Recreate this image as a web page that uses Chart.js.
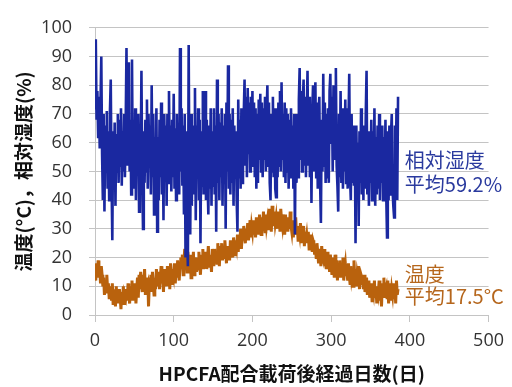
<!DOCTYPE html>
<html lang="ja">
<head>
<meta charset="utf-8">
<title>温度・相対湿度の経時変化</title>
<script src="https://cdn.jsdelivr.net/npm/chart.js@4.4.1/dist/chart.umd.min.js"></script>
<style>
  html, body { margin: 0; padding: 0; background: #fff; }
  #wrap { width: 512px; height: 387px; }
</style>
</head>
<body>
<div id="wrap"><canvas id="c" width="512" height="387"></canvas></div>
<script>
// Daily relative humidity (%) from day 0 to day 385
const humidity = [
  72, 96, 68, 78, 62, 76, 58, 74, 90, 56,
  40, 70, 36, 66, 50, 71, 44, 64, 40, 71,
  82, 48, 26, 64, 44, 67, 38, 63, 50, 70,
  46, 68, 52, 72, 45, 64, 50, 70, 48, 66,
  93, 52, 70, 88, 50, 68, 42, 89, 48, 66,
  44, 72, 40, 68, 50, 70, 36, 64, 52, 85,
  48, 30, 64, 46, 68, 50, 75, 44, 70, 52,
  66, 42, 80, 48, 70, 35, 62, 46, 72, 29,
  62, 40, 68, 48, 74, 42, 64, 33, 70, 50,
  66, 38, 70, 46, 78, 50, 66, 43, 68, 48,
  77, 44, 65, 40, 70, 48, 66, 42, 93, 50,
  72, 45, 66, 35, 70, 20, 64, 30, 17, 94,
  44, 28, 70, 38, 66, 42, 62, 79, 33, 66,
  48, 72, 40, 68, 25, 64, 45, 78, 42, 66,
  78, 40, 68, 46, 35, 66, 44, 72, 38, 64,
  45, 72, 42, 66, 29, 82, 46, 70, 40, 67,
  48, 72, 38, 66, 46, 70, 30, 74, 50, 87,
  44, 70, 42, 68, 46, 72, 38, 66, 48, 64,
  40, 29, 75, 48, 68, 44, 72, 46, 66, 70,
  82, 52, 76, 48, 79, 56, 74, 50, 76, 58,
  78, 52, 74, 48, 72, 44, 70, 46, 75, 54,
  77, 50, 74, 48, 72, 54, 76, 50, 70, 80,
  52, 74, 46, 40, 70, 50, 76, 48, 72, 44,
  41, 72, 48, 74, 52, 78, 50, 81, 54, 70,
  48, 74, 46, 72, 50, 70, 44, 68, 48, 72,
  50, 66, 44, 70, 28, 66, 46, 70, 48, 75,
  86, 54, 78, 50, 74, 82, 52, 76, 48, 70,
  85, 52, 76, 48, 72, 39, 70, 80, 50, 72,
  81, 48, 74, 44, 70, 76, 46, 32, 68, 50,
  84, 52, 74, 46, 70, 48, 72, 46, 78, 84,
  60, 76, 50, 80, 54, 74, 86, 52, 45, 36,
  70, 48, 78, 46, 72, 44, 68, 50, 75, 46,
  72, 44, 66, 84, 48, 40, 70, 46, 66, 45,
  62, 25, 66, 44, 60, 31, 64, 46, 72, 42,
  65, 40, 66, 44, 70, 85, 42, 64, 38, 62,
  46, 68, 40, 64, 44, 72, 38, 62, 42, 66,
  44, 70, 40, 64, 46, 66, 40, 62, 44, 68,
  42, 27, 64, 40, 66, 42, 62, 70, 44, 38,
  34, 66, 44, 72, 40, 76
];

// Daily temperature (°C) from day 0 to day 385
const temperature = [
  15, 12, 18, 14, 19, 13, 16, 11, 17, 14,
  10, 13, 7, 12, 8, 14, 9, 11, 6, 10,
  8, 5, 11, 4, 9, 6, 3, 10, 5, 8,
  4, 9, 6, 2, 8, 5, 10, 4, 7, 6,
  9, 5, 11, 7, 4, 10, 6, 12, 5, 8,
  7, 11, 4, 9, 13, 6, 14, 9, 15, 11,
  8, 14, 10, 16, 7, 12, 9, 13, 3, 11,
  10, 14, 8, 15, 11, 7, 13, 9, 16, 12,
  10, 15, 9, 13, 17, 11, 14, 8, 16, 12,
  13, 10, 17, 12, 15, 9, 18, 13, 11, 16,
  14, 18, 11, 16, 13, 19, 15, 12, 17, 20,
  16, 21, 14, 19, 23, 17, 20, 15, 22, 18,
  17, 21, 13, 19, 16, 22, 14, 20, 18, 15,
  20, 16, 22, 17, 14, 21, 18, 23, 16, 19,
  18, 22, 16, 20, 24, 17, 21, 19, 15, 23,
  20, 17, 23, 19, 22, 18, 25, 21, 17, 24,
  21, 25, 19, 23, 20, 26, 22, 18, 24, 21,
  23, 19, 26, 22, 25, 20, 27, 23, 21, 26,
  24, 28, 22, 27, 25, 30, 23, 28, 26, 31,
  27, 25, 30, 28, 32, 26, 29, 33, 27, 31,
  29, 33, 28, 31, 27, 34, 30, 32, 28, 35,
  31, 28, 34, 30, 36, 32, 29, 35, 31, 33,
  30, 37, 32, 35, 29, 38, 33, 31, 36, 32,
  34, 30, 36, 32, 35, 29, 37, 33, 31, 35,
  32, 28, 35, 31, 34, 29, 33, 30, 36, 31,
  29, 33, 27, 32, 30, 34, 28, 31, 26, 30,
  28, 32, 25, 30, 27, 31, 24, 29, 26, 28,
  25, 29, 23, 27, 24, 28, 22, 26, 25, 21,
  24, 20, 25, 22, 18, 23, 21, 17, 24, 20,
  19, 23, 17, 21, 16, 22, 18, 20, 15, 21,
  18, 14, 20, 17, 13, 21, 16, 19, 12, 18,
  15, 19, 13, 17, 14, 20, 12, 16, 18, 14,
  16, 12, 18, 14, 11, 17, 13, 15, 10, 19,
  13, 16, 10, 14, 12, 17, 9, 15, 11, 13,
  12, 9, 14, 8, 11, 13, 7, 10, 12, 6,
  9, 11, 5, 10, 8, 12, 6, 9, 4, 10,
  8, 12, 5, 9, 3, 11, 7, 13, 6, 9,
  10, 6, 12, 4, 8, 11, 5, 9, 7, 11,
  6, 10, 4, 12, 7, 9
];

// Elapsed days after loading (x values)
const days = humidity.map((_, i) => i);

// Axis tick values
const xTicks = [0, 100, 200, 300, 400, 500];
const yTicks = [0, 10, 20, 30, 40, 50, 60, 70, 80, 90, 100];

// Annotation texts beside each series
const humidityLabel = ['相対湿度', '平均59.2%'];
const temperatureLabel = ['温度', '平均17.5°C'];

const BLUE = '#1a28a0';
const BROWN = '#b9620d';
const GRID = '#c4c4c4';
const FONT = '"Open Sans", "Noto Sans CJK JP", sans-serif';
const CJK = '"Noto Sans CJK JP", "Open Sans", sans-serif';

const toPoints = (vals) => vals.map((v, i) => ({ x: days[i], y: v }));

// Draws the series annotations to the right of the traces
const seriesNotes = {
  id: 'seriesNotes',
  afterDatasetsDraw(chart) {
    const { ctx, scales: { x, y } } = chart;
    ctx.save();
    ctx.font = '20px ' + CJK;
    ctx.textAlign = 'left';
    ctx.textBaseline = 'middle';
    const left = x.getPixelForValue(400) - 5;
    ctx.fillStyle = '#2a3a9e';
    ctx.fillText(humidityLabel[0], left, y.getPixelForValue(53.8));
    ctx.fillText(humidityLabel[1], left, y.getPixelForValue(45.6));
    ctx.fillStyle = '#b5661c';
    ctx.fillText(temperatureLabel[0], left, y.getPixelForValue(14.3));
    ctx.fillText(temperatureLabel[1], left, y.getPixelForValue(6.6));
    ctx.restore();
  }
};

new Chart(document.getElementById('c'), {
  type: 'line',
  data: {
    datasets: [
      {
        label: humidityLabel[0],
        data: toPoints(humidity),
        borderColor: BLUE,
        borderWidth: 2.6,
        borderJoinStyle: 'miter',
        pointRadius: 0,
        tension: 0,
        fill: false
      },
      {
        label: temperatureLabel[0],
        data: toPoints(temperature),
        borderColor: BROWN,
        borderWidth: 3,
        borderJoinStyle: 'miter',
        pointRadius: 0,
        tension: 0,
        fill: false
      }
    ]
  },
  options: {
    responsive: false,
    animation: false,
    devicePixelRatio: 1,
    layout: { padding: { top: 12, right: 17, left: 0, bottom: 0 } },
    plugins: {
      legend: { display: false },
      tooltip: { enabled: false }
    },
    scales: {
      x: {
        type: 'linear',
        min: 0,
        max: 500,
        afterBuildTicks(scale) { scale.ticks = xTicks.map(v => ({ value: v })); },
        afterFit(scale) { scale.height = 72; },
        grid: { drawOnChartArea: false, drawTicks: true, tickLength: 7, color: GRID },
        border: { color: GRID, width: 1 },
        ticks: { color: '#333', font: { family: FONT, size: 18 }, padding: 8, maxRotation: 0 },
        title: {
          display: true,
          text: 'HPCFA配合載荷後経過日数(日)',
          color: '#111',
          font: { family: CJK, size: 19, weight: 'bold' },
          padding: { top: 0, bottom: 2 }
        }
      },
      y: {
        min: 0,
        max: 100,
        afterBuildTicks(scale) { scale.ticks = yTicks.map(v => ({ value: v })); },
        afterFit(scale) { scale.width = 95; },
        grid: { color: GRID, lineWidth: 1, tickLength: 6 },
        border: { color: GRID, width: 1 },
        ticks: { color: '#333', font: { family: FONT, size: 18 }, padding: 17 },
        title: {
          display: true,
          text: '温度(°C)，相対湿度(%)',
          color: '#111',
          font: { family: CJK, size: 19, weight: 'bold' },
          padding: { top: 12, bottom: 0 }
        }
      }
    }
  },
  plugins: [seriesNotes]
});
</script>
</body>
</html>
